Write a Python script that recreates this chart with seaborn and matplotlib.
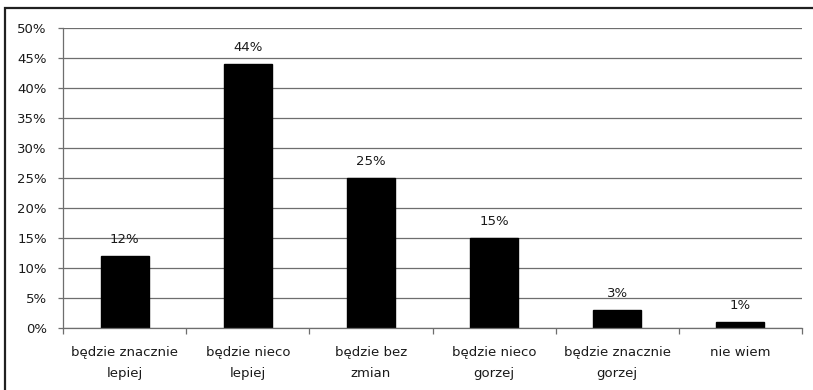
import matplotlib
matplotlib.use("Agg")
import matplotlib.pyplot as plt
from matplotlib.patches import Rectangle
from matplotlib.ticker import FuncFormatter, FixedLocator
import seaborn as sns
import pandas as pd

categories = [
    "będzie znacznie\nlepiej",
    "będzie nieco\nlepiej",
    "będzie bez\nzmian",
    "będzie nieco\ngorzej",
    "będzie znacznie\ngorzej",
    "nie wiem",
]
values = [12, 44, 25, 15, 3, 1]
y_ticks = [0, 5, 10, 15, 20, 25, 30, 35, 40, 45, 50]

sns.set_theme(style="white")
plt.rcParams["font.family"] = ["DejaVu Sans"]
FS = 9.5
plt.rcParams["font.size"] = FS

W, H = 813, 390
fig = plt.figure(figsize=(W / 100, H / 100), dpi=100)
fig.patch.set_facecolor("white")

# plot area in pixel coordinates
left, right, top, bottom = 63, 802, 28, 328
ax = fig.add_axes([left / W, 1 - bottom / H, (right - left) / W, (bottom - top) / H])

df = pd.DataFrame({"kategoria": categories, "procent": values})
sns.barplot(data=df, x="kategoria", y="procent", color="black",
            saturation=1, width=0.39, ax=ax, edgecolor="black")

ax.set_ylim(0, 50)
ax.set_xlim(-0.5, len(categories) - 0.5)
ax.yaxis.set_major_locator(FixedLocator(y_ticks))
ax.yaxis.set_major_formatter(FuncFormatter(lambda v, _: f"{int(v)}%"))
ax.set_xlabel("")
ax.set_ylabel("")

# horizontal gridlines
ax.grid(axis="y", color="#6e6e6e", linewidth=0.9)
ax.set_axisbelow(True)

for side in ["top", "right"]:
    ax.spines[side].set_visible(False)
for side in ["left", "bottom"]:
    ax.spines[side].set_color("#6e6e6e")
    ax.spines[side].set_linewidth(0.9)

# y ticks on the left, x tick marks between categories
ax.tick_params(axis="y", which="major", left=True, length=3.6, width=0.9,
               color="#6e6e6e", pad=8, labelsize=FS, labelcolor="#1a1a1a")
ax.set_xticks([i - 0.5 for i in range(len(categories) + 1)], minor=True)
ax.tick_params(axis="x", which="minor", bottom=True, length=4.3, width=0.9,
               color="#6e6e6e")
ax.tick_params(axis="x", which="major", bottom=False, length=0, pad=13,
               labelsize=FS, labelcolor="#1a1a1a")
for lbl in ax.get_xticklabels():
    lbl.set_linespacing(1.75)
    lbl.set_verticalalignment("top")

# value labels above bars
ax.bar_label(ax.containers[0], labels=[f"{v}%" for v in values],
             padding=7.5, fontsize=FS, color="#1a1a1a")

# outer frame of the chart
fig.patches.append(Rectangle((4.5 / W, -0.1), 1.2, 1 - 8 / H + 0.1,
                             transform=fig.transFigure, fill=False,
                             edgecolor="#202020", linewidth=1.6))

fig.savefig("out.png", dpi=100, facecolor="white")
